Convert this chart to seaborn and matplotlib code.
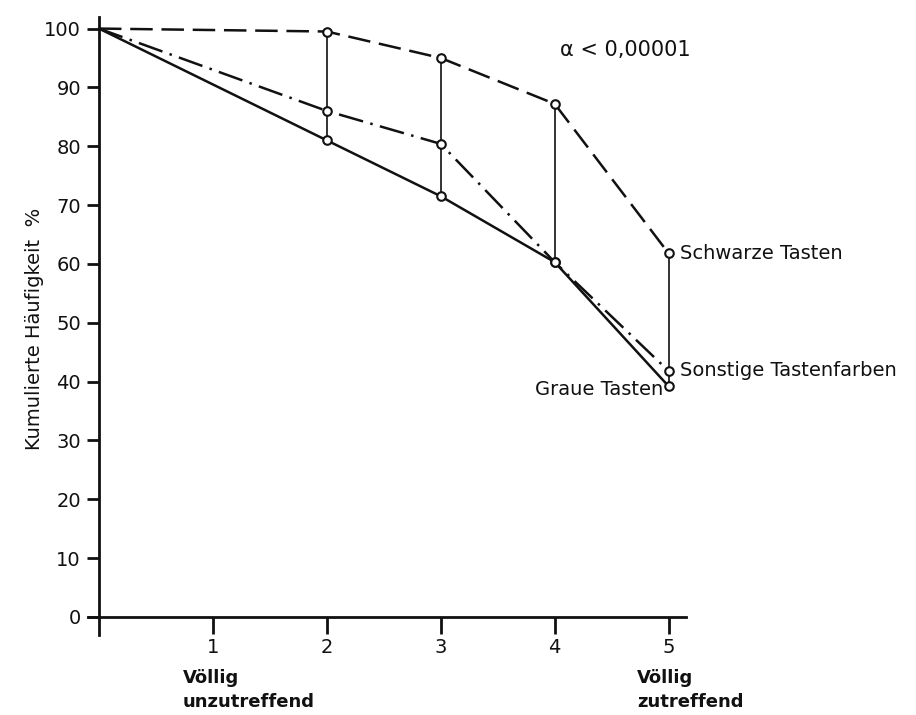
import numpy as np
import pandas as pd
import matplotlib
matplotlib.use("Agg")
import matplotlib.pyplot as plt
import seaborn as sns

# ---- data ----
x_vals = [0, 2, 3, 4, 5]
schwarze = [100, 99.5, 95.0, 87.2, 61.8]
sonstige = [100, 86.0, 80.4, 60.3, 41.8]
graue = [100, 81.0, 71.5, 60.3, 39.2]
series_names = ["Schwarze Tasten", "Sonstige Tastenfarben", "Graue Tasten"]
x_ticks = [1, 2, 3, 4, 5]
y_ticks = [0, 10, 20, 30, 40, 50, 60, 70, 80, 90, 100]

sns.set_style("white")
plt.rcParams['font.family'] = ['DejaVu Sans']
plt.rcParams['text.color'] = '#111111'
plt.rcParams['xtick.color'] = '#111111'
plt.rcParams['ytick.color'] = '#111111'

df = pd.DataFrame({
    "x": x_vals * 3,
    "y": schwarze + sonstige + graue,
    "series": [series_names[0]] * 5 + [series_names[1]] * 5 + [series_names[2]] * 5,
})

fig = plt.figure(figsize=(9.16, 7.15), dpi=100)
ax = fig.add_axes([0.0956, 0.1125, 0.653, 0.864])

dashes = {
    series_names[0]: (9, 3.5),
    series_names[1]: (10, 3, 1, 3),
    series_names[2]: "",
}
sns.lineplot(data=df, x="x", y="y", style="series", dashes=dashes,
             color="#111111", linewidth=1.8, legend=False, ax=ax, sort=False)

# vertical connectors
arr = np.array([schwarze, sonstige, graue])
ax.vlines(x_vals[1:], arr[:, 1:].min(axis=0), arr[:, 1:].max(axis=0),
          color="#222222", linewidth=1.3, zorder=2)

pts = df[df["x"] >= 2]
sns.scatterplot(data=pts, x="x", y="y", marker="o", s=38, facecolor="white",
                edgecolor="#111111", linewidth=1.5, legend=False, ax=ax, zorder=4)

ax.set_xlim(-0.1, 5.15)
ax.set_ylim(-3, 102)
for s in ["top", "right"]:
    ax.spines[s].set_visible(False)
ax.spines["left"].set_position(("data", 0))
ax.spines["bottom"].set_position(("data", 0))
for s in ["left", "bottom"]:
    ax.spines[s].set_linewidth(2)
    ax.spines[s].set_color("#111111")

ax.set_xticks(x_ticks)
ax.set_xticklabels([str(t) for t in x_ticks])
ax.set_yticks(y_ticks)
ax.set_yticklabels([str(t) for t in y_ticks])
ax.tick_params(axis="y", direction="out", length=9, width=2, labelsize=14,
               pad=4, left=True)
ax.tick_params(axis="x", direction="out", length=12, width=2, labelsize=14,
               pad=3, bottom=True)
ax.set_xlabel("")
ax.set_ylabel("")

fig.text(0.038, 0.54, "Kumulierte Häufigkeit  %", rotation=90,
         fontsize=14, ha="center", va="center")

fig.text(183/916, 1 - 690/715, "Völlig\nunzutreffend", fontsize=13,
         ha="left", va="center", linespacing=1.4, fontweight="bold")
fig.text(637/916, 1 - 690/715, "Völlig\nzutreffend", fontsize=13,
         ha="left", va="center", linespacing=1.4, fontweight="bold")

fig.text(560/916, 1 - 50/715, "α < 0,00001", fontsize=15, ha="left",
         va="center")
ax.text(5.1, schwarze[-1], series_names[0], fontsize=14, ha="left",
        va="center")
ax.text(5.1, sonstige[-1], series_names[1], fontsize=14, ha="left",
        va="center")
ax.text(4.95, graue[-1] - 0.5, series_names[2], fontsize=14, ha="right",
        va="center")

fig.savefig("out.png", dpi=100, facecolor="white")
